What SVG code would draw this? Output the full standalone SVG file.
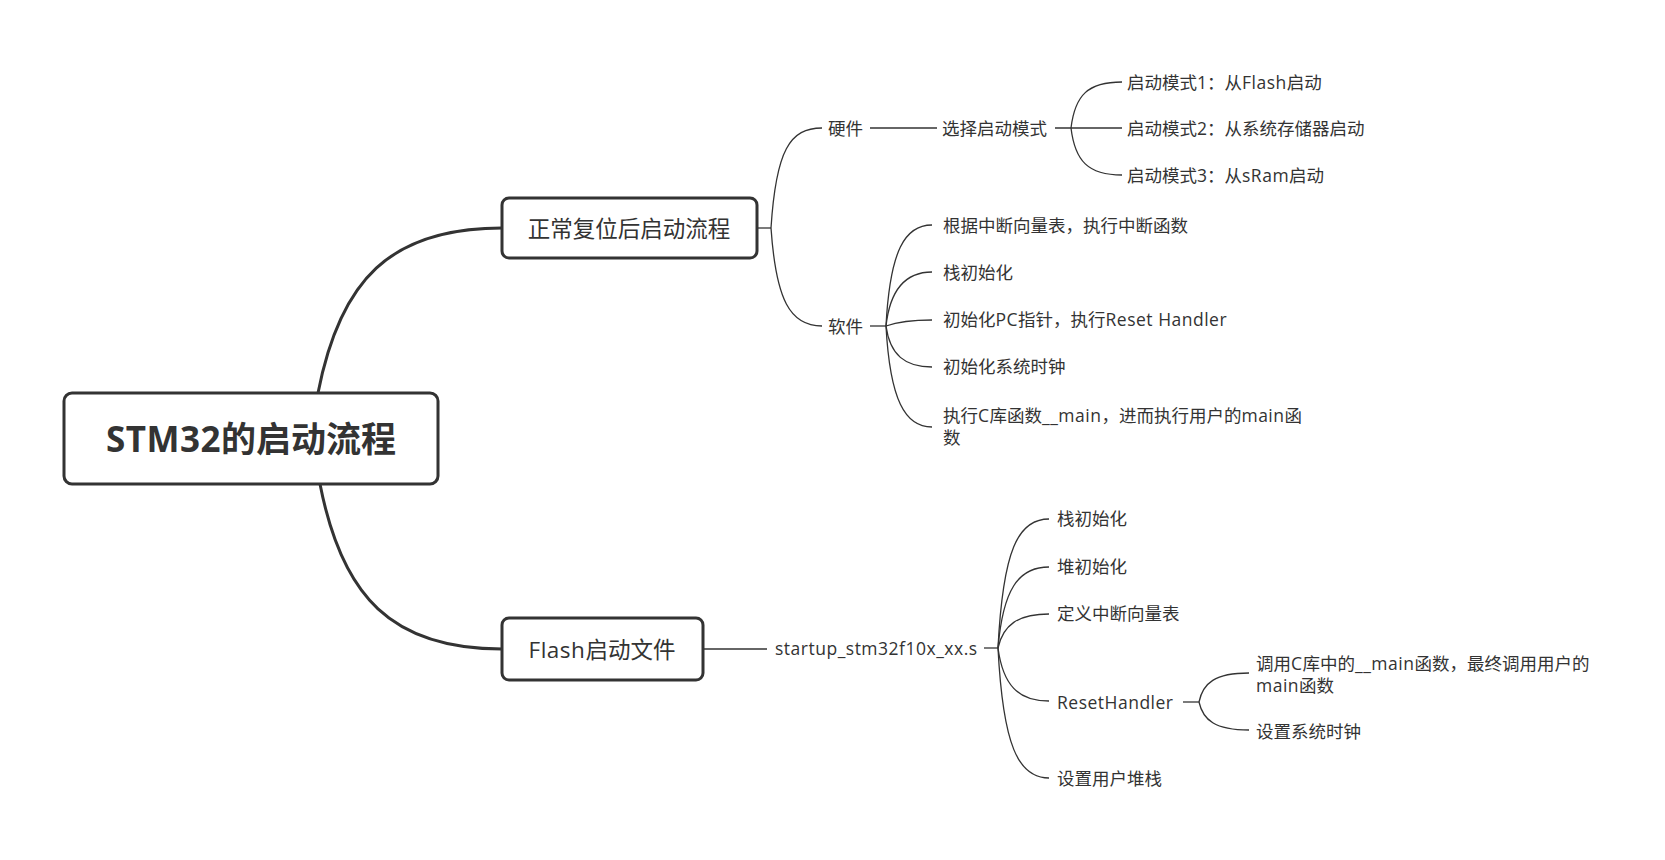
<svg xmlns="http://www.w3.org/2000/svg" width="1665" height="860" viewBox="0 0 1665 860">
<style>
text{font-family:"Open Sans","Noto Sans CJK SC",sans-serif;fill:#333;dominant-baseline:central}
.t{font-size:17.5px}
.m{font-size:22.5px}
.r{font-size:35px;font-weight:bold}
.l{letter-spacing:0.5px}
.box{fill:#fff;stroke:#333;stroke-width:3}
.main{fill:none;stroke:#333;stroke-width:3;stroke-linecap:round}
.ln{fill:none;stroke:#333;stroke-width:1.3}
</style>
<rect width="1665" height="860" fill="#fff"/>
<g id="connectors">
<path class="main" d="M318 393 C340 280 390 228 502 228"/>
<path class="main" d="M320 484 C342 597 392 649 502 649"/>
<path class="ln" d="M757 228 L771 228"/>
<path class="ln" d="M771 228 C776 150 790 128 822 128"/>
<path class="ln" d="M771 228 C776 300 790 326 822 326"/>
<path class="ln" d="M870 128 L937 128"/>
<path class="ln" d="M1055 128 L1122 128"/>
<path class="ln" d="M1071 128 C1075 95 1088 82 1122 82"/>
<path class="ln" d="M1071 128 C1075 161 1088 175 1122 175"/>
<path class="ln" d="M870 326 L886 326"/>
<path class="ln" d="M886 326 C890 250 905 225 932 225"/>
<path class="ln" d="M886 326 C890 290 905 272 932 272"/>
<path class="ln" d="M886 326 C900 321 915 320 932 320"/>
<path class="ln" d="M886 326 C890 355 905 367 932 367"/>
<path class="ln" d="M886 326 C890 400 905 427 932 427"/>
<path class="ln" d="M703 649 L767 649"/>
<path class="ln" d="M984 648 L998 648"/>
<path class="ln" d="M998 648 C1003 550 1018 519 1049 519"/>
<path class="ln" d="M998 648 C1003 590 1018 567 1049 567"/>
<path class="ln" d="M998 648 C1003 625 1018 614 1049 614"/>
<path class="ln" d="M998 648 C1003 685 1018 701 1049 701"/>
<path class="ln" d="M998 648 C1003 745 1018 778 1049 778"/>
<path class="ln" d="M1183 702 L1199 702"/>
<path class="ln" d="M1199 702 C1203 683 1215 673 1249 673"/>
<path class="ln" d="M1199 702 C1203 720 1215 730 1249 730"/>
</g>
<g id="root">
<rect class="box" x="64" y="393" width="374" height="91" rx="8"/>
<text class="r" x="251" y="438" text-anchor="middle"><tspan class="l">STM32</tspan>的启动流程</text>
</g>
<g id="normal-boot">
<rect class="box" x="502" y="198" width="255" height="60" rx="7"/>
<text class="m" x="629" y="228" text-anchor="middle">正常复位后启动流程</text>
</g>
<g id="flash-file">
<rect class="box" x="502" y="618" width="201" height="62" rx="7"/>
<text class="m" x="602" y="649" text-anchor="middle"><tspan class="l">Flash</tspan>启动文件</text>
</g>
<g id="hardware"><text class="t" x="828" y="128">硬件</text></g>
<g id="select-mode"><text class="t" x="942" y="128">选择启动模式</text></g>
<g id="mode1"><text class="t" x="1127" y="82">启动模式1：从<tspan class="l">Flash</tspan>启动</text></g>
<g id="mode2"><text class="t" x="1127" y="128">启动模式2：从系统存储器启动</text></g>
<g id="mode3"><text class="t" x="1127" y="175">启动模式3：从<tspan class="l">sRam</tspan>启动</text></g>
<g id="software"><text class="t" x="828" y="326">软件</text></g>
<g id="sw1"><text class="t" x="943" y="225">根据中断向量表，执行中断函数</text></g>
<g id="sw2"><text class="t" x="943" y="272">栈初始化</text></g>
<g id="sw3"><text class="t" x="943" y="319">初始化<tspan class="l">PC</tspan>指针，执行<tspan class="l">Reset Handler</tspan></text></g>
<g id="sw4"><text class="t" x="943" y="366">初始化系统时钟</text></g>
<g id="sw5"><text class="t" x="943" y="415">执行<tspan class="l">C</tspan>库函数<tspan class="l">__main</tspan>，进而执行用户的<tspan class="l">main</tspan>函</text><text class="t" x="943" y="437">数</text></g>
<g id="startup"><text class="t l" x="775" y="648">startup_stm32f10x_xx.s</text></g>
<g id="st1"><text class="t" x="1057" y="518">栈初始化</text></g>
<g id="st2"><text class="t" x="1057" y="566">堆初始化</text></g>
<g id="st3"><text class="t" x="1057" y="613">定义中断向量表</text></g>
<g id="reset-handler"><text class="t l" x="1057" y="702">ResetHandler</text></g>
<g id="rh1"><text class="t" x="1256" y="663">调用<tspan class="l">C</tspan>库中的<tspan class="l">__main</tspan>函数，最终调用用户的</text><text class="t" x="1256" y="685"><tspan class="l">main</tspan>函数</text></g>
<g id="rh2"><text class="t" x="1256" y="731">设置系统时钟</text></g>
<g id="st5"><text class="t" x="1057" y="778">设置用户堆栈</text></g>
</svg>
